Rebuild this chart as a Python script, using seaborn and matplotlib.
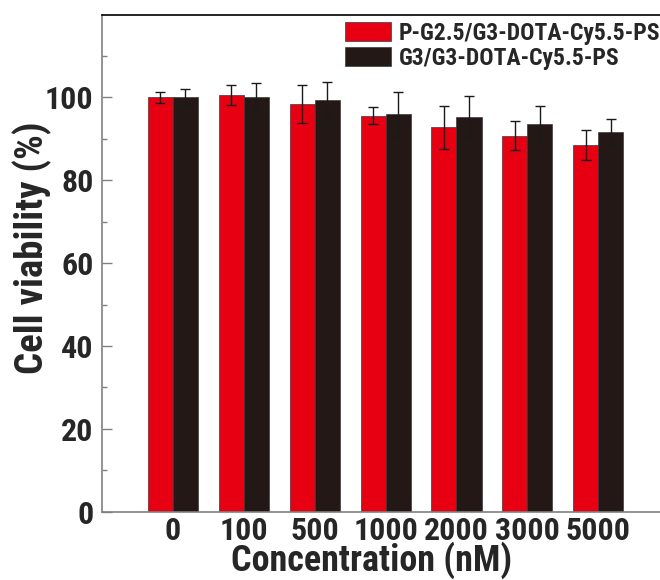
import matplotlib
matplotlib.use('Agg')
import matplotlib.pyplot as plt
from matplotlib import font_manager
import seaborn as sns
import pandas as pd

concentrations = ['0', '100', '500', '1000', '2000', '3000', '5000']
groups = ['P-G2.5/G3-DOTA-Cy5.5-PS', 'G3/G3-DOTA-Cy5.5-PS']
viability_pg25 = [100.0, 100.6, 98.5, 95.6, 92.8, 90.8, 88.5]
viability_g3 = [100.0, 100.2, 99.3, 96.1, 95.3, 93.5, 91.6]
error_pg25 = [1.3, 2.4, 4.6, 2.1, 5.2, 3.4, 3.7]
error_g3 = [2.1, 3.4, 4.4, 5.3, 5.0, 4.5, 3.2]
palette = ['#E60012', '#231815']


def pick_narrow_bold():
    # look for a bold condensed face (Arial Narrow look-alike)
    found = {}
    for f in font_manager.fontManager.ttflist:
        w = f.weight if isinstance(f.weight, int) else font_manager.weight_dict.get(f.weight, 400)
        if w < 600 or f.style != 'normal':
            continue
        key = (f.name + ' ' + f.fname + ' ' + str(f.stretch)).lower()
        if 'narrow' in key or 'condensed' in key:
            found[f.name.lower() + ' ' + f.fname.lower()] = f.fname
    for pref in ['liberation sans narrow', 'arial narrow', 'roboto condensed',
                 'open sans condensed', 'noto sans', 'dejavu']:
        for k, v in found.items():
            if k.startswith(pref) or pref in k:
                return v
    return next(iter(found.values()), None)


sns.set_style('white')
narrow = pick_narrow_bold()
plt.rcParams['font.family'] = ['Liberation Sans', 'DejaVu Sans']
plt.rcParams['font.weight'] = 'bold'


def fp(size):
    if narrow:
        return font_manager.FontProperties(fname=narrow, size=size)
    return font_manager.FontProperties(family='Liberation Sans', weight='bold', size=size * 0.85)


df = pd.DataFrame({
    'conc': concentrations * 2,
    'group': [groups[0]] * 7 + [groups[1]] * 7,
    'viability': viability_pg25 + viability_g3,
})

fig = plt.figure(figsize=(6.6, 5.8), dpi=100)
ax = fig.add_axes([0.1545, 0.1178, 0.8455, 0.857])
sns.barplot(data=df, x='conc', y='viability', hue='group', palette=palette,
            errorbar=None, width=0.706, saturation=1, edgecolor='#3a3a3a',
            linewidth=0.5, ax=ax)

# error bars on top of each bar (one container per group)
for cont, errs in zip(ax.containers, [error_pg25, error_g3]):
    xs = [p.get_x() + p.get_width() / 2 for p in cont.patches]
    ys = [p.get_height() for p in cont.patches]
    ax.errorbar(xs, ys, yerr=errs, fmt='none', ecolor='#1a1a1a',
                elinewidth=1, capsize=3.6, capthick=1)

ax.set_ylim(0, 120)
ax.set_xlim(-1.0, 6.87)
ax.set_yticks([0, 20, 40, 60, 80, 100])
ax.set_yticks([10, 30, 50, 70, 90, 110], minor=True)
ax.tick_params(axis='y', which='major', direction='in', length=7, width=1,
               color='#808080', pad=6, left=True)
ax.tick_params(axis='y', which='minor', direction='in', length=3.6, width=1,
               color='#808080', left=True)
ax.tick_params(axis='x', length=0, pad=3)
for lab in ax.get_xticklabels() + ax.get_yticklabels():
    lab.set_fontproperties(fp(23))

for s in ['left', 'bottom']:
    ax.spines[s].set_color('#808080')
    ax.spines[s].set_linewidth(1.2)
ax.spines['top'].set_color('black')
ax.spines['top'].set_linewidth(1.2)
ax.spines['right'].set_visible(False)

ax.set_xlabel('Concentration (nM)', fontproperties=fp(26), va='bottom')
ax.set_ylabel('Cell viability (%)', fontproperties=fp(28))
ax.xaxis.set_label_coords(0.484, -0.135)
ax.yaxis.set_label_coords(-0.09, 0.53)

ax.legend(loc='upper left', bbox_to_anchor=(0.435, 0.985), frameon=False,
          prop=fp(17), handlelength=1.95, handleheight=0.85, handletextpad=0.35,
          labelspacing=0.08, borderpad=0, borderaxespad=0)

fig.savefig('out.png', dpi=100)
